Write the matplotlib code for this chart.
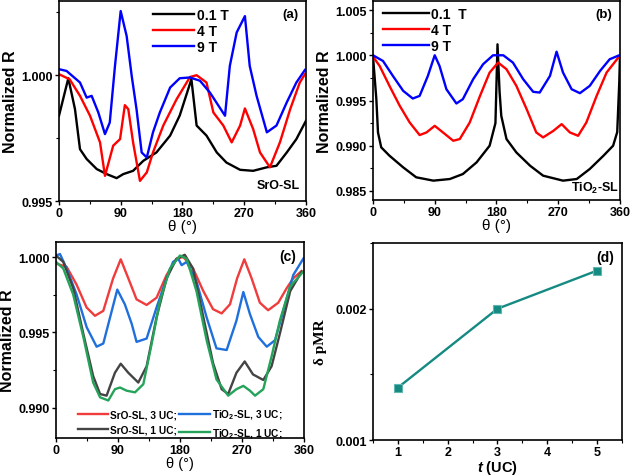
import matplotlib
matplotlib.use("Agg")
import matplotlib.pyplot as plt
from matplotlib.ticker import MultipleLocator, FixedLocator

plt.rcParams['font.family'] = ['Liberation Sans', 'DejaVu Sans']
plt.rcParams['font.weight'] = 'bold'
plt.rcParams['mathtext.fontset'] = 'custom'
plt.rcParams['mathtext.rm'] = 'Liberation Sans:bold'
plt.rcParams['mathtext.it'] = 'Liberation Sans:bold:italic'
plt.rcParams['mathtext.bf'] = 'Liberation Sans:bold'

# ---------------- panel (a) SrO-SL ----------------
a_blk_t = [0, 13.6, 23.3, 30.6, 40.3, 55, 69.5, 84, 93.7, 108, 123, 142, 162, 176, 193, 200.6, 215, 230, 244, 264, 283, 303, 317, 332, 346, 360]
a_blk_r = [0.99839, 0.99988, 0.99865, 0.99706, 0.99667, 0.99627, 0.99607, 0.99591, 0.99607, 0.9962, 0.9966, 0.99693, 0.9976, 0.9984, 0.99984, 0.9980, 0.9976, 0.99693, 0.99653, 0.99624, 0.9962, 0.99634, 0.9964, 0.99693, 0.99746, 0.99819]
a_red_t = [0, 15.5, 30.6, 45.2, 59.8, 67, 79, 89, 96, 101, 108, 118, 128, 137, 152, 171.5, 191, 200.6, 215, 225, 239.5, 251.7, 264, 271, 283, 293, 307.5, 322, 337, 351, 358.5]
a_red_r = [1.00004, 0.99984, 0.99918, 0.99839, 0.99733, 0.996, 0.9972, 0.99746, 0.99881, 0.99865, 0.99733, 0.9958, 0.99614, 0.99693, 0.9980, 0.99905, 0.99993, 1.0, 0.99971, 0.99852, 0.9980, 0.99733, 0.998, 0.99868, 0.99786, 0.99693, 0.99634, 0.99733, 0.99865, 0.99971, 1.00004]
a_blu_t = [0, 11, 30.6, 40.3, 47.6, 57.3, 67, 74, 81.6, 89.9, 98.6, 106, 113, 120.5, 128, 137, 147, 162, 176, 191, 205.5, 220, 242, 249, 259, 271, 278, 288, 303, 317, 332, 346, 358.5]
a_blu_r = [1.00024, 1.00017, 0.99971, 0.99911, 0.99918, 0.99852, 0.99766, 0.99812, 1.00037, 1.00255, 1.00156, 0.99997, 0.99865, 0.99693, 0.99673, 0.99773, 0.99852, 0.99951, 0.99988, 0.99991, 0.99978, 0.99931, 0.99839, 1.00037, 1.0017, 1.00235, 1.00037, 0.99918, 0.99773, 0.998, 0.99892, 0.99971, 1.00021]

# ---------------- panel (b) TiO2-SL ----------------
b_blk_t = [0, 4.9, 7.3, 12, 24, 44, 63, 88, 112, 131, 151, 170, 178.5, 181.5, 184.5, 187, 194.6, 209, 229, 248, 277, 297, 316, 336, 350, 356, 359, 360]
b_blk_r = [0.9999, 0.99515, 0.99147, 0.98982, 0.9889, 0.98761, 0.98651, 0.98614, 0.98632, 0.98687, 0.98816, 0.99, 0.9925, 1.00121, 0.9960, 0.99331, 0.99074, 0.98926, 0.98779, 0.98669, 0.98614, 0.98632, 0.98743, 0.9889, 0.99, 0.9915, 0.997, 0.9999]
b_red_t = [0, 9.7, 24, 39, 53.5, 68, 78, 90, 102, 117, 126.5, 141, 156, 170, 182.4, 194.6, 209, 224, 238, 248, 263, 275, 287, 299, 311, 326, 340.5, 357.5]
b_red_r = [0.99985, 0.99882, 0.99662, 0.99441, 0.99257, 0.99118, 0.99147, 0.9922, 0.99147, 0.99055, 0.99074, 0.99257, 0.99551, 0.99809, 0.99919, 0.99846, 0.99662, 0.99404, 0.99147, 0.99092, 0.99165, 0.99239, 0.99147, 0.9911, 0.99257, 0.99551, 0.99809, 0.99974]
b_blu_t = [0, 14.6, 29, 44, 58, 68, 80, 90, 97, 107, 121.6, 131, 146, 160.5, 175, 190, 204, 219, 233.5, 243, 258, 267.6, 277, 289.5, 301.6, 316, 331, 345, 359]
b_blu_r = [1.0, 0.99937, 0.99772, 0.99607, 0.99522, 0.99551, 0.99772, 1.0, 0.99882, 0.99625, 0.99467, 0.99515, 0.99735, 0.99901, 1.0, 1.0, 0.99919, 0.99735, 0.99596, 0.99588, 0.99772, 1.0004, 0.99809, 0.99625, 0.99581, 0.99662, 0.99827, 0.99956, 1.0]

# ---------------- panel (c) thickness comparison ----------------
c_sro3_t = [0, 15.5, 30, 44.5, 56.6, 68.7, 83, 94, 105, 117, 131.6, 146, 160.6, 175, 185, 199, 214, 228, 240.5, 252.6, 263, 273.4, 284, 296, 308, 322.7, 335, 344.5, 356.6]
c_sro3_r = [0.99957, 0.99935, 0.99816, 0.99665, 0.9961, 0.99643, 0.99859, 0.99985, 0.99859, 0.99719, 0.99682, 0.9973, 0.99881, 0.99989, 1.0, 0.99924, 0.99773, 0.99654, 0.99626, 0.99686, 0.99859, 0.99985, 0.99859, 0.99697, 0.99647, 0.99697, 0.99794, 0.99859, 0.99907]
c_tio3_t = [0, 5.8, 15.5, 30, 44.5, 59, 68.7, 81, 89, 100, 110, 117, 131.6, 146, 160.6, 170, 177.6, 182.4, 189.7, 204, 218.7, 233, 247.8, 262, 272, 281.6, 293.7, 306, 318, 330, 344.5, 359]
c_tio3_r = [1.0001, 1.0002, 0.99924, 0.99751, 0.99535, 0.99405, 0.99426, 0.99643, 0.99784, 0.99686, 0.99556, 0.99437, 0.99459, 0.99665, 0.99859, 0.99968, 0.99989, 0.99946, 0.99968, 0.99838, 0.996, 0.99394, 0.99383, 0.99578, 0.99768, 0.99621, 0.9947, 0.99405, 0.99448, 0.99643, 0.99881, 0.99989]
c_sro1_t = [0, 10.6, 25, 39.7, 54, 64, 73.5, 85.6, 94, 105, 119.5, 131.6, 146, 160.6, 175, 187, 199, 214, 228, 240.5, 250, 262, 274, 286, 301, 313, 325, 340, 356.6]
c_sro1_r = [1.0001, 0.99968, 0.99794, 0.99491, 0.9921, 0.99091, 0.9908, 0.99232, 0.99292, 0.99232, 0.99167, 0.99275, 0.996, 0.99859, 0.99989, 1.00015, 0.99924, 0.996, 0.99297, 0.99123, 0.99091, 0.99232, 0.99307, 0.99221, 0.99184, 0.99275, 0.99491, 0.99773, 0.99903]
c_tio1_t = [0, 10.6, 25, 39.7, 54, 64, 76, 85.6, 93, 102.6, 114.7, 126.8, 139, 151, 165.5, 180, 189.7, 204, 218.7, 233, 250, 262, 272, 281.6, 289, 301, 313, 325, 340, 359]
c_tio1_r = [0.99968, 0.99924, 0.99751, 0.9947, 0.99167, 0.99069, 0.99048, 0.99123, 0.99134, 0.99113, 0.99102, 0.99156, 0.99426, 0.99708, 0.99924, 1.0001, 0.99989, 0.99773, 0.99448, 0.99188, 0.9908, 0.99123, 0.99145, 0.99113, 0.9908, 0.99123, 0.9934, 0.99578, 0.99805, 0.99903]

# ---------------- panel (d) ----------------
d_t = [1, 3, 5]
d_dpmr = [0.0014, 0.0020, 0.00229]

field_labels = ['0.1 T', '4 T', '9 T']
c_labels = ['SrO-SL, 3 UC;', 'TiO$_2$-SL, 3 UC;', 'SrO-SL, 1 UC;', 'TiO$_2$-SL, 1 UC;']

fig = plt.figure(figsize=(6.31, 4.77), dpi=100)
ax_a = fig.add_axes([0.0935, 0.5765, 0.3914, 0.4193])
ax_b = fig.add_axes([0.5911, 0.5786, 0.3914, 0.4172])
ax_c = fig.add_axes([0.0887, 0.0800, 0.3930, 0.4106])
ax_d = fig.add_axes([0.5911, 0.0750, 0.3946, 0.4135])

lw = 1.7

def style_theta(ax, size=11):
    ax.set_xlim(0, 360)
    ax.set_xticks([0, 90, 180, 270, 360])
    ax.xaxis.set_minor_locator(MultipleLocator(45))
    ax.set_xlabel('θ (°)', fontsize=size, fontweight='normal', labelpad=0)
    ax.set_ylabel('Normalized R', fontsize=11.5, fontweight='bold', labelpad=2)

for ax in [ax_a, ax_b, ax_c, ax_d]:
    ax.tick_params(which='both', direction='out', top=False, right=False, labelsize=9, pad=1.5)
    ax.tick_params(which='major', length=3, width=1)
    ax.tick_params(which='minor', length=2, width=0.8)
    for s in ax.spines.values():
        s.set_linewidth(1.2)

# (a)
ax_a.plot(a_blk_t, a_blk_r, color='black', lw=lw, label=field_labels[0])
ax_a.plot(a_red_t, a_red_r, color='#ff0000', lw=lw, label=field_labels[1])
ax_a.plot(a_blu_t, a_blu_r, color='#0000ff', lw=lw, label=field_labels[2])
style_theta(ax_a)
ax_a.set_ylim(0.995, 1.00295)
ax_a.set_yticks([0.995, 1.000])
ax_a.yaxis.set_minor_locator(MultipleLocator(0.0025))
ax_a.set_yticklabels(['0.995', '1.000'])
ax_a.legend(loc='upper left', bbox_to_anchor=(0.34, 1.015), frameon=False, fontsize=10,
            handlelength=3.0, handletextpad=0.2, labelspacing=0.15, borderpad=0.2)
ax_a.text(0.97, 0.965, '(a)', transform=ax_a.transAxes, ha='right', va='top', fontsize=9.5, fontweight='bold')
ax_a.text(0.975, 0.05, 'SrO-SL', transform=ax_a.transAxes, ha='right', va='bottom', fontsize=9, fontweight='bold')

# (b)
ax_b.plot(b_blk_t, b_blk_r, color='black', lw=lw, label='0.1  T')
ax_b.plot(b_red_t, b_red_r, color='#ff0000', lw=lw, label=field_labels[1])
ax_b.plot(b_blu_t, b_blu_r, color='#0000ff', lw=lw, label=field_labels[2])
style_theta(ax_b)
ax_b.set_ylim(0.984, 1.006)
ax_b.set_yticks([0.985, 0.990, 0.995, 1.000, 1.005])
ax_b.set_yticklabels(['0.985', '0.990', '0.995', '1.000', '1.005'])
ax_b.yaxis.set_minor_locator(MultipleLocator(0.0025))
ax_b.legend(loc='upper left', bbox_to_anchor=(0.0, 1.02), frameon=False, fontsize=10,
            handlelength=3.3, handletextpad=0.2, labelspacing=0.15, borderpad=0.2)
ax_b.text(0.97, 0.965, '(b)', transform=ax_b.transAxes, ha='right', va='top', fontsize=9.5, fontweight='bold')
ax_b.text(0.995, 0.025, 'TiO$_2$-SL', transform=ax_b.transAxes, ha='right', va='bottom', fontsize=9, fontweight='bold')

# (c)
h1, = ax_c.plot(c_sro3_t, c_sro3_r, color='#f03c3c', lw=lw)
h2, = ax_c.plot(c_tio3_t, c_tio3_r, color='#1f6fdc', lw=lw)
h3, = ax_c.plot(c_sro1_t, c_sro1_r, color='#444444', lw=lw)
h4, = ax_c.plot(c_tio1_t, c_tio1_r, color='#25a35a', lw=lw)
style_theta(ax_c, size=10.5)
ax_c.set_ylim(0.988, 1.001)
ax_c.set_yticks([0.990, 0.995, 1.000])
ax_c.set_yticklabels(['0.990', '0.995', '1.000'])
ax_c.yaxis.set_minor_locator(MultipleLocator(0.0025))
ax_c.legend([h1, h3, h2, h4], [c_labels[0], c_labels[2], c_labels[1], c_labels[3]],
            loc='lower left', bbox_to_anchor=(0.06, -0.045), ncol=2,
            frameon=False, fontsize=7.3, handlelength=3.0, handletextpad=0.2, columnspacing=0.2,
            labelspacing=0.45, borderpad=0.2)
ax_c.text(0.97, 0.965, '(c)', transform=ax_c.transAxes, ha='right', va='top', fontsize=10, fontweight='bold')

# (d)
ax_d.plot(d_t, d_dpmr, color='#148a82', lw=1.7, marker='s', markersize=5.5,
          markerfacecolor='#148a82', markeredgecolor='#5fb8b0', markeredgewidth=0.8)
ax_d.set_xlim(0.5, 5.5)
ax_d.set_ylim(0.001, 0.0025)
ax_d.set_xticks([1, 2, 3, 4, 5])
ax_d.xaxis.set_minor_locator(MultipleLocator(0.5))
ax_d.set_yticks([0.001, 0.002])
ax_d.set_yticklabels(['0.001', '0.002'])
ax_d.yaxis.set_minor_locator(FixedLocator([0.0015, 0.0025]))
ax_d.set_xlabel(r'$t$ (UC)', fontsize=10.5, fontweight='bold', labelpad=0)
ax_d.set_ylabel('δ pMR', fontsize=11, fontweight='bold', family=['Liberation Serif', 'DejaVu Serif'], labelpad=6)
ax_d.text(0.97, 0.965, '(d)', transform=ax_d.transAxes, ha='right', va='top', fontsize=10, fontweight='bold')

for ax in [ax_a, ax_b, ax_c, ax_d]:
    for lab in ax.get_xticklabels() + ax.get_yticklabels():
        lab.set_fontweight('bold')

fig.savefig('out.png', dpi=100)
